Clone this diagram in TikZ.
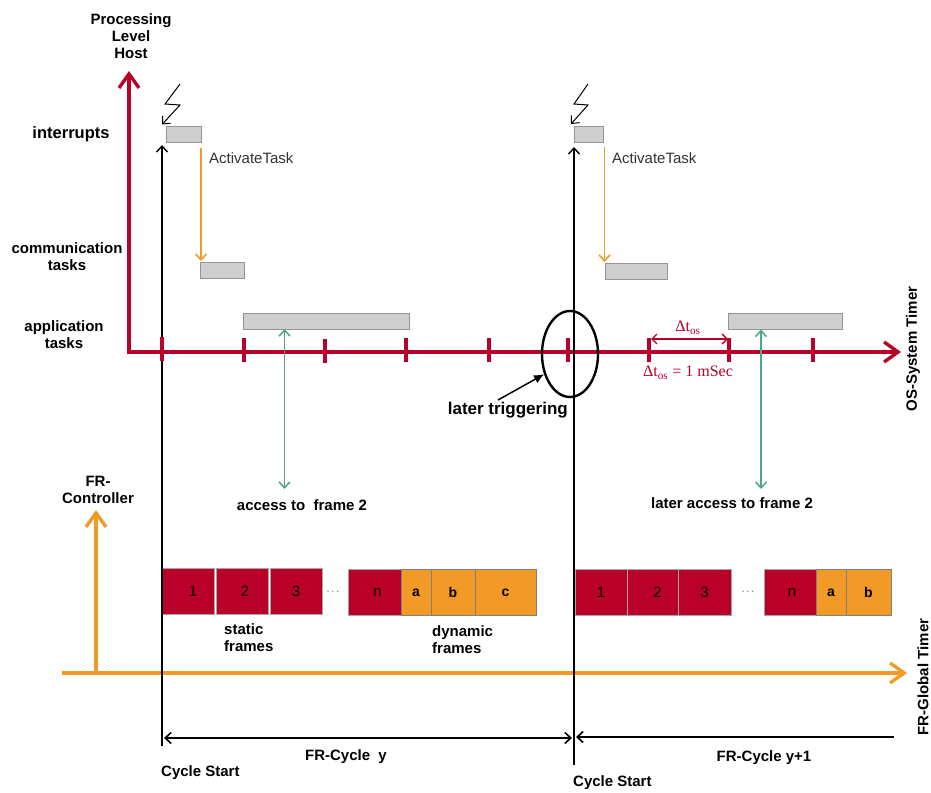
\documentclass[tikz,border=0pt]{standalone}
\usepackage{xcolor}
\usepackage{fontspec}
\setmainfont{Liberation Sans}
\newfontfamily\timefont{Liberation Serif}
\usetikzlibrary{arrows.meta,positioning,shapes.geometric}
\definecolor{hostred}{HTML}{B90028}
\definecolor{frorange}{HTML}{F29A28}
\definecolor{accessgreen}{HTML}{4FA584}
\tikzset{
    boldtext/.style={
        font=\bfseries\fontsize{15}{17}\selectfont,
        align=center,
        inner sep=0pt
    },
    plaintext/.style={
        font=\fontsize{15}{17}\selectfont,
        text=black!80,
        inner sep=0pt
    },
    timetext/.style={
        font=\timefont\fontsize{16}{18}\selectfont,
        text=hostred,
        inner sep=0pt
    },
    taskbox/.style={
        draw=black!42,
        line width=1pt,
        fill=black!19,
        inner sep=0pt,
        outer sep=0pt,
        minimum height=16pt
    },
    staticframe/.style={
        draw=black!35,
        line width=0.6pt,
        fill=hostred,
        font=\fontsize{15}{17}\selectfont,
        inner sep=0pt,
        outer sep=0pt,
        minimum height=46pt
    },
    dynframe/.style={
        draw=black!50,
        line width=0.8pt,
        fill=frorange,
        font=\bfseries\fontsize{14}{17}\selectfont,
        inner sep=0pt,
        outer sep=0pt,
        minimum height=46pt
    },
    ostick/.style={
        fill=hostred,
        inner sep=0pt,
        minimum width=3.2pt,
        minimum height=24pt
    },
    redaxis/.style={
        hostred,
        line width=3.4pt,
        line cap=rect,
        -{Straight Barb[length=14pt,width=20pt,line width=3.4pt]}
    },
    orangeaxis/.style={
        frorange,
        line width=3.4pt,
        -{Straight Barb[length=14pt,width=20pt,line width=3.4pt]}
    },
    cycleline/.style={
        black,
        line width=1.9pt,
        -{Straight Barb[length=6pt,width=11pt,line width=1.4pt]}
    },
    cyclespan/.style={
        black,
        line width=1.6pt,
        -{Straight Barb[length=6pt,width=11pt,line width=1.6pt]}
    },
    activate/.style={
        frorange,
        line width=1.7pt,
        -{Straight Barb[length=6pt,width=11pt,line width=1.6pt]}
    },
    accessline/.style={
        accessgreen,
        line width=1.7pt,
        {Straight Barb[length=6pt,width=11pt,line width=1.5pt]}-{Straight Barb[length=6pt,width=11pt,line width=1.5pt]}
    },
    boltline/.style={
        black,
        line width=1pt,
        -{Straight Barb[length=6pt,width=11pt,line width=1pt]}
    }
}
\begin{document}
\begin{tikzpicture}[x=1pt,y=-1pt]
        \useasboundingbox (0,0) rectangle (931,792);

        % end points of the axes and cycle lines
        \coordinate (hostzero) at (129,352);
        \coordinate (hosttop) at (129,71);
        \coordinate (hostend) at (901,352);
        \coordinate (frzero) at (62,673);
        \coordinate (frup) at (96,673);
        \coordinate (frtop) at (96,510);
        \coordinate (frend) at (907,673);
        \coordinate (cycleone) at (162,746);
        \coordinate (cycletwo) at (574,765);
        \coordinate (boltone) at (180,84);
        \coordinate (bolttwo) at (588,84);

        % level labels
        \node[boldtext] (levelhost) at (131,36) {Processing\\Level\\Host};
        \node[boldtext, font=\bfseries\fontsize{16.5}{18}\selectfont] (levelint) at (71,134) {interrupts};
        \node[boldtext] (levelcomm) at (67,256.5) {communication\\tasks};
        \node[boldtext] (levelapp) at (64,334.5) {application\\tasks};
        \node[boldtext] (levelfr) at (98,489.5) {FR-\\Controller};
        \node[boldtext, rotate=90] (ostimer) at (913,349) {OS-System Timer};
        \node[boldtext, rotate=90] (frtimer) at (923,677) {FR-Global Timer};

        % tasks
        \node[taskbox, minimum width=35pt] (intone) at (183.5,134.5) {};
        \node[taskbox, minimum width=44pt] (commone) at (222,270) {};
        \node[taskbox, minimum width=166pt] (appone) at (326,321) {};
        \node[taskbox, minimum width=29pt] (inttwo) at (588.5,134) {};
        \node[taskbox, minimum width=62pt] (commtwo) at (636,271) {};
        \node[taskbox, minimum width=114pt] (apptwo) at (785,321.5) {};

        % frames of cycle y
        \node[staticframe, minimum width=52pt] (frameone) at (188,591.5) {\hspace{10pt}1};
        \node[staticframe, minimum width=52pt, right=2pt of frameone] (frametwo) {\hspace{6pt}2};
        \node[staticframe, minimum width=52pt, right=2pt of frametwo] (framethree) {3};
        \node[staticframe, minimum width=53pt] (framen) at (374.5,592.5) {\hspace{6pt}n};
        \node[dynframe, minimum width=30pt, right=0pt of framen] (framea) {a};
        \node[dynframe, minimum width=44pt, right=0pt of framea] (frameb) {b};
        \node[dynframe, minimum width=61pt, right=0pt of frameb] (framec) {c};
        \node[plaintext, font=\fontsize{11}{13}\selectfont] (dotsone) at (333,592) {$\cdots$};

        % frames of cycle y+1
        \node[staticframe, minimum width=52pt] (nextone) at (601,592.5) {1};
        \node[staticframe, minimum width=51pt, right=0pt of nextone] (nexttwo) {\hspace{10pt}2};
        \node[staticframe, minimum width=53pt, right=0pt of nexttwo] (nextthree) {3};
        \node[staticframe, minimum width=52pt] (nextn) at (790,592.5) {\hspace{4pt}n};
        \node[dynframe, minimum width=30pt, right=0pt of nextn] (nexta) {a};
        \node[dynframe, minimum width=45pt, right=0pt of nexta] (nextb) {b};
        \node[plaintext, font=\fontsize{11}{13}\selectfont] (dotstwo) at (748,592) {$\cdots$};

        % axes
        \draw[redaxis] (hostzero) -- (hosttop);
        \draw[redaxis] (hostzero) -- (hostend);
        \draw[orangeaxis] (frzero) -- (frend);
        \draw[orangeaxis] (frup) -- (frtop);

        % timer ticks
        \node[ostick] (tickb) at (244,350) {};
        \node[ostick] (tickc) at (325,351) {};
        \node[ostick] (tickd) at (406,350) {};
        \node[ostick] (ticke) at (489,350) {};
        \node[ostick] (tickf) at (568,350) {};
        \node[ostick] (tickg) at (649,350) {};
        \node[ostick] (tickh) at (729,350) {};
        \node[ostick] (ticki) at (813,350) {};

        % cycle lines
        \coordinate (cycleonetop) at (162,145);
        \coordinate (cycletwotop) at (574,147);
        \draw[cycleline] (cycleone) -- (cycleonetop);
        \draw[cycleline] (cycletwo) -- (cycletwotop);
        \node[ostick] (ticka) at (162,349) {};

        % interrupts
        \draw[boltline] (boltone) -- ++(-15,20) -- ++(15,1) -- ([xshift=-4pt,yshift=2pt]intone.north west);
        \draw[boltline] (bolttwo) -- ++(-14,20) -- ++(14,1) -- ([xshift=-3pt,yshift=2pt]inttwo.north west);

        % activation
        \draw[activate, shorten <=5pt, shorten >=1pt] (intone.south east) -- (intone.south east |- commone.north);
        \draw[activate, shorten <=5pt, shorten >=1pt] ([xshift=16pt]inttwo.south) -- ([xshift=16pt]inttwo.south |- commtwo.north);
        \node[plaintext, anchor=west] (activateone) at (209,158) {ActivateTask};
        \node[plaintext, anchor=west] (activatetwo) at (612,158) {ActivateTask};

        % frame access
        \coordinate (accessone) at (284.5,489);
        \coordinate (accesstwo) at (761,489);
        \draw[accessline] (accessone) -- (accessone |- appone.south);
        \draw[accessline] (accesstwo) -- (accesstwo |- apptwo.south);
        \node[boldtext] (accessonetext) at (302,505) {access to\ \ frame 2};
        \node[boldtext] (accesstwotext) at (732,503) {later access to frame 2};

        % later triggering
        \node[draw, ellipse, line width=2.4pt, minimum width=56pt, minimum height=86pt, inner sep=0pt] (triggering) at (570,354) {};
        \node[boldtext, anchor=east, font=\bfseries\fontsize{17}{19}\selectfont] (triggertext) at (568,410) {later triggering};
        \coordinate (triggerfoot) at (498,400);
        \draw[line width=1.5pt, -{Latex[length=10pt,width=9pt]}] (triggerfoot) -- (triggering.218);

        % timer resolution
        \coordinate (deltaleft) at (651,339);
        \coordinate (deltaright) at (728,339);
        \draw[hostred, line width=1.3pt, {Straight Barb[length=5pt,width=10pt,line width=1.3pt]}-{Straight Barb[length=5pt,width=10pt,line width=1.3pt]}] (deltaleft) -- (deltaright);
        \node[timetext] (deltatop) at (688,328) {Δt\textsubscript{os}};
        \node[timetext] (deltavalue) at (688,373) {Δt\textsubscript{os} = 1 mSec};

        % frame groups
        \node[boldtext, align=left, anchor=north west] (statictext) at (224,623) {static\\frames};
        \node[boldtext, align=left, anchor=north west] (dynamictext) at (432,625) {dynamic\\frames};

        % cycle spans
        \coordinate (spanleft) at (164,738);
        \coordinate (spanmid) at (572,738);
        \coordinate (spannext) at (576,737);
        \coordinate (spanend) at (894,737);
        \draw[cyclespan, {Straight Barb[length=6pt,width=11pt,line width=1.6pt]}-{Straight Barb[length=6pt,width=11pt,line width=1.6pt]}] (spanleft) -- (spanmid);
        \draw[cyclespan] (spanend) -- (spannext);
        \node[boldtext] (cycley) at (346,757) {FR-Cycle\ \ y};
        \node[boldtext] (cyclenext) at (764,758) {FR-Cycle y+1};
        \node[boldtext, anchor=west] (startone) at (161,773) {Cycle Start};
        \node[boldtext, anchor=west] (starttwo) at (573,783) {Cycle Start};
    \end{tikzpicture}
\end{document}
